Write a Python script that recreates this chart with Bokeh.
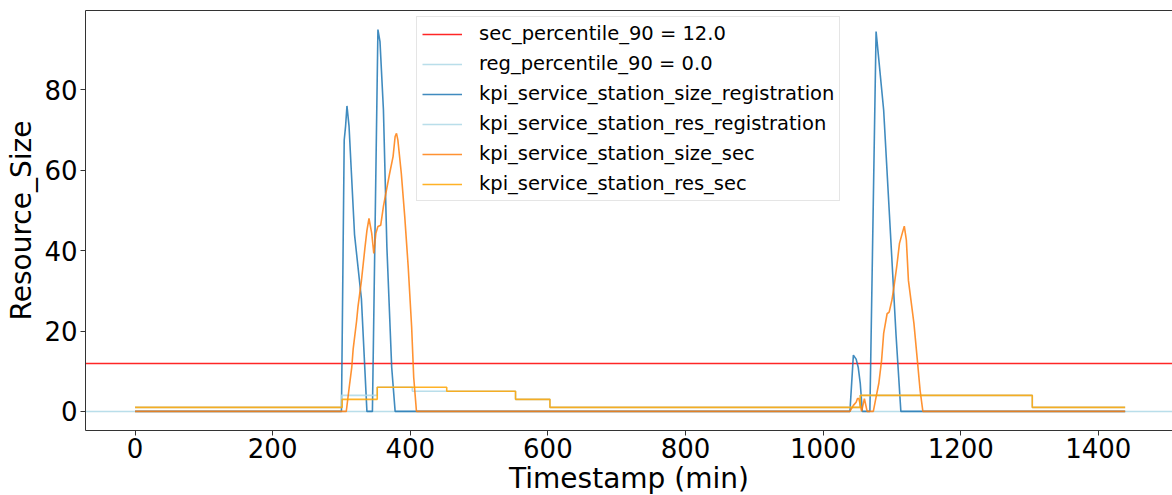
from bokeh.plotting import figure
from bokeh.models import Legend, LegendItem, LinearAxis, FixedTicker, Range1d
from bokeh.embed import file_html
from bokeh.resources import INLINE

# ---------------- data ----------------
sec_percentile_90 = 12.0
reg_percentile_90 = 0.0

size_reg_x = [0, 300, 304, 306, 308, 311, 319, 329, 337, 345, 353, 356, 361, 366, 373, 378,
              1039, 1044, 1048, 1051, 1054, 1057, 1068, 1077, 1079, 1088, 1098, 1106, 1113, 1439]
size_reg_y = [0, 0, 67.5, 71, 76, 71, 44, 28, 0, 0, 95, 92, 75, 41, 11, 0,
              0, 14, 13, 11, 7, 0, 0, 94.5, 91, 75, 44, 19, 0, 0]

res_reg_x = [0, 300, 352, 403, 553, 603, 1054, 1304, 1439]
res_reg_y = [1, 4, 6, 5, 3, 1, 4, 1, 1]

size_sec_x = [0, 307, 312, 315, 317, 322, 324, 329, 334, 337, 340, 344, 347, 350, 353, 357, 361,
              365, 370, 375, 378, 380, 382, 387, 392, 397, 402, 405, 409,
              1039, 1044, 1048, 1050, 1052, 1056, 1060, 1064, 1073, 1076, 1081, 1085, 1088, 1093,
              1096, 1100, 1103, 1107, 1111, 1115, 1118, 1121, 1124, 1132, 1137, 1141, 1145, 1439]
size_sec_y = [0, 0, 7, 11, 15.5, 22.5, 26, 32.5, 40.5, 45, 48, 44.3, 39.3, 44.3, 46, 46.3, 51,
              54.7, 59.2, 63.4, 68.4, 69.2, 67.5, 59.2, 48.4, 36, 21, 8.5, 0,
              0, 1.5, 2.3, 3.2, 3.2, 0, 3.2, 0, 0, 2.7, 7, 12.7, 19.4, 24.3,
              24.7, 27.7, 31, 36, 41.8, 44.3, 46.1, 42.6, 32.6, 21.9, 12.7, 5.2, 0, 0]

res_sec_x = [0, 301, 352, 453, 553, 603, 1054, 1304, 1439]
res_sec_y = [1, 3, 6, 5, 3, 1, 4, 1, 1]

x_ticks = [0, 200, 400, 600, 800, 1000, 1200, 1400]
y_ticks = [0, 20, 40, 60, 80]

labels = ["sec_percentile_90 = 12.0", "reg_percentile_90 = 0.0",
          "kpi_service_station_size_registration", "kpi_service_station_res_registration",
          "kpi_service_station_size_sec", "kpi_service_station_res_sec"]
x_label = "Timestamp (min)"
y_label = "Resource_Size"

# ---------------- figure ----------------
FONT = "DejaVu Sans"
p = figure(frame_width=1087, frame_height=420,
           x_range=Range1d(-72, 1507.8), y_range=Range1d(-4.75, 99.75),
           output_backend="svg", toolbar_location=None,
           min_border_left=85, min_border_right=0, min_border_top=10, min_border_bottom=65)
p.outline_line_color = None
p.grid.visible = False
p.background_fill_color = "white"
p.border_fill_color = "white"

AX = "#333333"
for ax in (p.xaxis, p.yaxis):
    ax.axis_line_color = AX
    ax.axis_line_width = 1
    ax.major_tick_line_color = AX
    ax.major_tick_out = 5
    ax.major_tick_in = 0
    ax.minor_tick_line_color = None
    ax.major_label_text_font = FONT
    ax.major_label_text_font_size = "26px"
    ax.major_label_text_color = "black"
    ax.axis_label_text_font = FONT
    ax.axis_label_text_font_size = "28px"
    ax.axis_label_text_font_style = "normal"
    ax.axis_label_text_color = "black"
p.xaxis.ticker = FixedTicker(ticks=x_ticks)
p.yaxis.ticker = FixedTicker(ticks=y_ticks)
p.xaxis.major_label_standoff = 2
p.yaxis.major_label_standoff = 3
p.yaxis.axis_label = y_label
p.yaxis.axis_label_standoff = 3
p.xaxis.axis_label = x_label
p.xaxis.axis_label_standoff = 1

top = LinearAxis(ticker=FixedTicker(ticks=[]), axis_line_color=AX, major_tick_out=0,
                 major_tick_in=0, minor_tick_out=0, major_label_text_font_size="0px",
                 major_label_standoff=0)
p.add_layout(top, "above")

ALPHA = 0.85
LW = 1.6
red = "#ff0000"
lightblue = "#add8e6"
blue = "#1f77b4"
orange1 = "#ff7f0e"
orange2 = "#ffa500"

r_red = p.hspan(y=[sec_percentile_90], line_color=red, line_width=LW, line_alpha=ALPHA)
r_lb = p.hspan(y=[reg_percentile_90], line_color=lightblue, line_width=LW, line_alpha=ALPHA)
r1 = p.line(size_reg_x, size_reg_y, line_color=blue, line_width=LW, line_alpha=ALPHA)
r2 = p.step(res_reg_x, res_reg_y, mode="after", line_color=lightblue, line_width=LW, line_alpha=ALPHA)
r3 = p.line(size_sec_x, size_sec_y, line_color=orange1, line_width=LW, line_alpha=ALPHA)
r4 = p.step(res_sec_x, res_sec_y, mode="after", line_color=orange2, line_width=LW, line_alpha=ALPHA)

legend = Legend(items=[LegendItem(label=l, renderers=[r]) for l, r in
                       zip(labels, [r_red, r_lb, r1, r2, r3, r4])],
                location=(331, 229))
legend.label_text_font = FONT
legend.label_text_font_size = "19.5px"
legend.label_text_color = "black"
legend.glyph_width = 40
legend.glyph_height = 22
legend.label_height = 22
legend.spacing = 7
legend.padding = 5
legend.label_standoff = 17
legend.margin = 0
legend.border_line_color = "#cccccc"
legend.border_line_width = 1
legend.background_fill_alpha = 0.8
p.add_layout(legend)

open("out.html", "w").write(file_html(p, INLINE))
